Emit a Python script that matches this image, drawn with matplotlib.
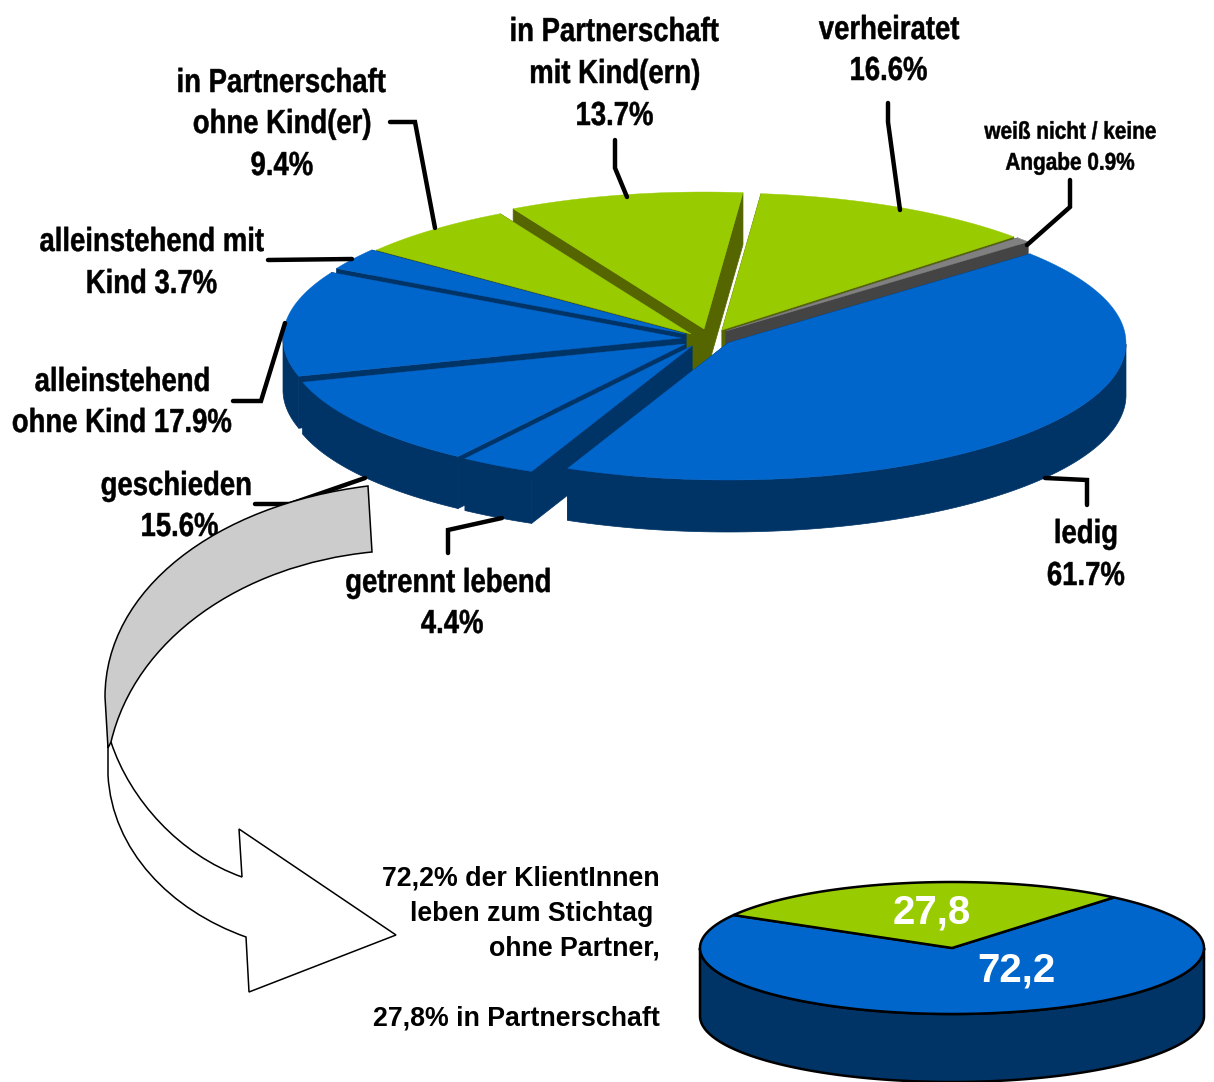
import numpy as np
import matplotlib
matplotlib.use("Agg")
import matplotlib.pyplot as plt
from matplotlib.patches import Polygon, PathPatch
from matplotlib.path import Path
from matplotlib.text import Text
from matplotlib.textpath import TextPath
from matplotlib.transforms import Affine2D, Bbox
from matplotlib.colors import to_rgba

# ---- data ----
categories = ["ledig", "getrennt lebend", "geschieden", "alleinstehend ohne Kind",
              "alleinstehend mit Kind", "in Partnerschaft ohne Kind(er)",
              "in Partnerschaft mit Kind(ern)", "verheiratet", "weiß nicht / keine Angabe"]
values = [61.7, 4.4, 15.6, 17.9, 3.7, 9.4, 13.7, 16.6, 0.9]
small_categories = ["ohne Partner", "in Partnerschaft"]
small_values = [72.2, 27.8]

# ---- layout / style ----
W, H = 1214, 1082
BLUE, NAVY = "#0066CC", "#003366"
GREEN, OLIVE = "#99CC00", "#556600"
GREY, DGREY = "#808080", "#444444"
top_cols = [BLUE]*5 + [GREEN]*3 + [GREY]
wall_cols = [NAVY]*5 + [OLIVE]*3 + [DGREY]
apex = [(728, 343), (692, 346), (685, 344), (681, 338), (686, 334),
        (691, 334), (704, 329), (722, 330), (726, 331)]
paint_order = [6, 7, 8, 5, 4, 3, 2, 1, 0]
RX, RY, DEPTH, START = 398, 137, 52, 40.6

fig = plt.figure(figsize=(W/100, H/100), dpi=100)
ax = fig.add_axes([0, 0, 1, 1])
ax.set_xlim(0, W)
ax.set_ylim(H, 0)
ax.axis("off")


class NarrowText(Text):
    """Text artist squeezed horizontally (the reference uses a condensed bold face)."""

    def __init__(self, *a, sx=0.82, **k):
        super().__init__(*a, **k)
        self.sx = sx

    def draw(self, renderer):
        x, y = self.get_transform().transform((self._x, self._y))
        fp = self.get_fontproperties()
        tp = TextPath((0, 0), self.get_text(), size=fp.get_size_in_points(), prop=fp)
        k = self.figure.dpi/72
        ext = tp.get_extents()
        cx = (ext.x0 + ext.x1)/2
        base = y - 0.36*fp.get_size_in_points()*k
        tr = Affine2D().translate(-cx, 0).scale(k*self.sx, k).translate(x, base)
        gc = renderer.new_gc()
        gc.set_linewidth(0.35)
        gc.set_foreground(self.get_color())
        renderer.draw_path(gc, tp, tr, to_rgba(self.get_color()))
        gc.restore()

    def get_window_extent(self, renderer=None, dpi=None):
        b = super().get_window_extent(renderer, dpi)
        cx = (b.x0 + b.x1)/2
        hw = b.width*self.sx/2
        return Bbox.from_extents(cx-hw, b.y0, cx+hw, b.y1)


def ell(c, t, rx, ry):
    t = np.radians(t)
    return np.column_stack([c[0] + rx*np.cos(t), c[1] - ry*np.sin(t)])


def draw_slice(c, a0, a1, rx, ry, d, top, wall, z=1):
    """Clockwise from a0 to a1 (degrees)."""
    ts = np.linspace(a0, a1, 200)
    arc = ell(c, ts, rx, ry)
    dv = np.array([0, d])
    for p in (arc[0], arc[-1]):
        ax.add_patch(Polygon([c, p, p+dv, np.array(c)+dv], fc=wall, ec=wall, lw=0.5, zorder=z))
    s = np.sin(np.radians(ts)) < 0
    if s.any():
        r = arc[s]
        ax.add_patch(Polygon(np.vstack([r, (r+dv)[::-1]]), fc=wall, ec=wall, lw=0.5, zorder=z))
    ax.add_patch(Polygon(np.vstack([[c], arc]), fc=top, ec=top, lw=0.3, zorder=z))


# ---- main exploded pie ----
vals = np.array(values, float)
spans = vals/vals.sum()*360
starts = START - np.concatenate([[0], np.cumsum(spans)[:-1]])
for i in paint_order:
    draw_slice(apex[i], starts[i], starts[i]-spans[i], RX, RY, DEPTH,
               top_cols[i], wall_cols[i], z=1+paint_order.index(i)*0.1)

# ---- leader lines ----
leaders = [[(390, 122), (415, 122), (435, 228)],
           [(615, 140), (615, 168), (627, 197)],
           [(888, 103), (888, 122), (900, 210)],
           [(1070, 180), (1070, 207), (1027, 245)],
           [(268, 260), (352, 259)],
           [(233, 401), (261, 401), (285, 323)],
           [(255, 504), (290, 504), (365, 478)],
           [(448, 553), (448, 530), (502, 518)],
           [(1087, 505), (1087, 480), (1045, 478)]]
for l in leaders:
    xs, ys = zip(*l)
    ax.plot(xs, ys, color="black", lw=3.2, solid_capstyle="round", solid_joinstyle="miter", zorder=3)

# ---- labels ----
labels = [("in Partnerschaft", 282, 80, 24), ("ohne Kind(er)", 282, 121, 24), ("9.4%", 282, 163, 24),
          ("in Partnerschaft", 615, 29, 24), ("mit Kind(ern)", 615, 71, 24), ("13.7%", 615, 113, 24),
          ("verheiratet", 889, 27, 24), ("16.6%", 889, 68, 24),
          ("weiß nicht / keine", 1070, 130, 17.5), ("Angabe 0.9%", 1070, 161, 17.5),
          ("alleinstehend mit", 152, 239, 24), ("Kind 3.7%", 152, 281, 24),
          ("alleinstehend", 122, 379, 24), ("ohne Kind 17.9%", 122, 420, 24),
          ("geschieden", 176, 483, 24), ("15.6%", 180, 524, 24),
          ("getrennt lebend", 448, 580, 24), ("4.4%", 452, 621, 24),
          ("ledig", 1086, 531, 24), ("61.7%", 1086, 573, 24)]
for s, x, y, fs in labels:
    ax.add_artist(NarrowText(x, y, s, ha="center", va="center", fontsize=fs, fontweight="bold",
                             family="Liberation Sans", color="black", zorder=4,
                             sx=0.825 if fs > 20 else 0.855))

# ---- curved arrow ----
MV, C4, LN, CL = Path.MOVETO, Path.CURVE4, Path.LINETO, Path.CLOSEPOLY
grey_v = [(368, 486), (215, 505), (105, 590), (105, 697), (108, 748),
          (111, 742), (135, 640), (240, 565), (372, 552), (368, 486)]
grey_c = [MV, C4, C4, C4, LN, LN, C4, C4, C4, CL]
white_v = [(108, 745), (108, 775), (112, 850), (170, 910), (246, 937), (249, 992), (396, 935),
           (239, 829), (242, 877), (180, 855), (130, 800), (111, 742), (108, 745)]
white_c = [MV, LN, C4, C4, C4, LN, LN, LN, LN, C4, C4, C4, CL]
ax.add_patch(PathPatch(Path(white_v, white_c), fc="white", ec="black", lw=1.1, zorder=5))
ax.add_patch(PathPatch(Path(grey_v, grey_c), fc="#CCCCCC", ec="black", lw=1.1, zorder=5.1))

# ---- caption ----
caption = [("72,2% der KlientInnen", 879), ("leben zum Stichtag", 914), ("ohne Partner,", 948),
           ("27,8% in Partnerschaft", 1018)]
cap_right = [660, 653, 660, 660]
for (s, y), xr in zip(caption, cap_right):
    ax.text(xr, y, s, ha="right", va="center", fontsize=19.3, fontweight="bold",
            family="Liberation Sans", color="black", zorder=4)

# ---- small pie ----
sv = np.array(small_values, float)
ssp = sv/sv.sum()*360
c = (952, 948)
srx, sry, sd = 252, 66, 68
ts = np.linspace(0, -180, 200)
rim = ell(c, ts, srx, sry)
ax.add_patch(Polygon(np.vstack([rim, (rim+[0, sd])[::-1]]), fc=NAVY, ec="black", lw=1.8, zorder=2))
a = 50.0
t_blue = np.linspace(a, a-ssp[0], 300)
t_green = np.linspace(a-ssp[0], a-ssp[0]-ssp[1], 100)
ax.add_patch(Polygon(np.vstack([[c], ell(c, t_blue, srx, sry)]), fc=BLUE, ec="black", lw=1.8, zorder=2.1))
ax.add_patch(Polygon(np.vstack([[c], ell(c, t_green, srx, sry)]), fc=GREEN, ec="black", lw=1.8, zorder=2.2))
small_pos = [(1016, 970), (932, 912)]
for v, (x, y) in zip(small_values, small_pos):
    ax.text(x, y, f"{v:.1f}".replace(".", ","), ha="center", va="center", fontsize=29,
            fontweight="bold", family="Liberation Sans", color="white", zorder=4)

fig.savefig("out.png", dpi=100)
